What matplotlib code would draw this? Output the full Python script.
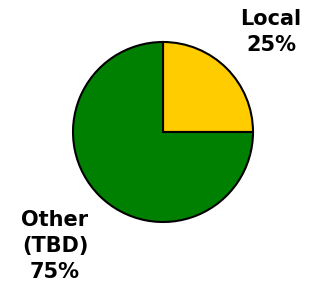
import matplotlib.pyplot as plt

labels = ['Local\n25%', 'Other\n(TBD)\n75%']
values = [25, 75]
colors = ['#FFCC00', '#008000']

W, H = 310, 293
fig = plt.figure(figsize=(W / 100, H / 100), dpi=100)
ax = fig.add_axes([0, 0, 1, 1])

ax.pie(values, colors=colors, startangle=90, counterclock=False,
       center=(163, H - 132), radius=90, frame=True,
       wedgeprops=dict(edgecolor='black', linewidth=1.5))
ax.set_xlim(0, W)
ax.set_ylim(0, H)
ax.set_aspect('equal')
ax.axis('off')

ax.text(271, H - 32, labels[0], ha='center', va='center', fontsize=15,
        fontweight='bold', family='DejaVu Sans', linespacing=1.4)
ax.text(55, H - 246, labels[1], ha='center', va='center', fontsize=15,
        fontweight='bold', family='DejaVu Sans', linespacing=1.4)

fig.savefig('out.png', dpi=100)
